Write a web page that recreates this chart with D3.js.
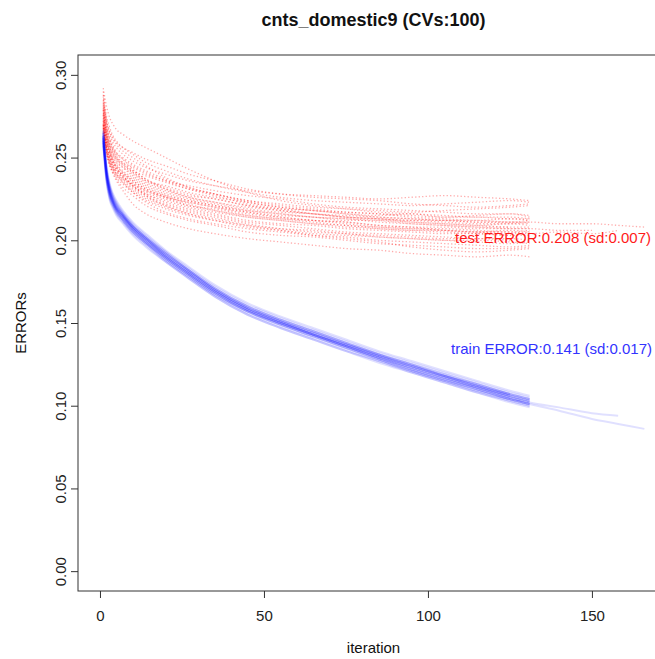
<!DOCTYPE html>
<html>
<head>
<meta charset="utf-8">
<script src="https://cdn.jsdelivr.net/npm/d3@7"></script>
<style>
    body { margin: 0; background: #fff; }
    svg text { font-family: "Liberation Sans", Arial, sans-serif; }
</style>
</head>
<body>
<svg id="chart" width="655" height="659"></svg>
<script>
const ITERS = [1, 2, 3, 4, 5, 7, 10, 14, 20, 27, 35, 45, 55, 65, 75, 85, 95, 105, 115, 125, 131, 140, 150, 158, 166];

// test error per CV run (red, dotted)
const TEST_RUNS = [
    [.290,.275,.268,.263,.260,.256,.252,.247,.242,.237,.233,.229,.226,.224,.223,.222,.221,.222,.223,.224,.223],
    [.282,.268,.259,.254,.250,.246,.241,.236,.231,.227,.225,.221,.219,.218,.216,.215,.216,.214,.215,.216,.214],
    [.270,.258,.251,.246,.243,.239,.233,.228,.224,.220,.217,.214,.212,.210,.209,.207,.206,.206,.205,.204,.205],
    [.278,.264,.256,.252,.249,.246,.242,.239,.235,.231,.228,.224,.221,.219,.217,.216,.214,.213,.212,.213,.212],
    [.268,.254,.247,.243,.240,.236,.231,.226,.221,.217,.214,.210,.207,.205,.204,.202,.201,.200,.199,.198,.199],
    [.285,.272,.265,.261,.258,.254,.250,.245,.238,.232,.228,.223,.220,.218,.216,.214,.213,.212,.211,.211,.210],
    [.274,.260,.253,.248,.244,.240,.235,.230,.226,.223,.220,.217,.215,.214,.212,.212,.211,.210,.209,.210,.209],
    [.272,.259,.252,.247,.245,.241,.237,.232,.227,.222,.218,.215,.213,.211,.209,.208,.207,.207,.206,.205,.206],
    [.280,.266,.258,.255,.252,.249,.245,.241,.236,.233,.230,.227,.225,.222,.220,.219,.218,.217,.216,.216,.215],
    [.265,.253,.247,.243,.240,.237,.233,.228,.223,.219,.216,.212,.210,.209,.207,.206,.205,.204,.204,.203,.203],
    [.276,.263,.256,.251,.248,.244,.239,.234,.229,.225,.222,.218,.216,.214,.213,.212,.210,.209,.208,.208],
    [.288,.270,.262,.257,.253,.249,.243,.237,.231,.226,.223,.220,.218,.216,.215,.214,.213,.212,.212,.211,.211,.210,.210,.209,.208],
    [.271,.257,.250,.245,.242,.238,.234,.229,.225,.221,.219,.215,.213,.212,.211,.209,.208,.208,.207,.207,.207,.206,.206],
    [.279,.265,.258,.253,.250,.247,.244,.240,.236,.231,.227,.222,.219,.216,.214,.213,.212,.211,.210,.210,.211],
    [.269,.256,.249,.244,.241,.237,.232,.227,.222,.218,.215,.211,.209,.207,.205,.204,.203,.202,.201,.201,.200],
    [.283,.269,.261,.256,.253,.250,.246,.242,.237,.232,.228,.224,.222,.220,.219,.218,.217,.218,.219,.220,.221],
    [.273,.261,.254,.250,.247,.244,.240,.235,.230,.226,.223,.219,.217,.216,.214,.213,.212,.212,.211,.211,.212],
    [.267,.255,.248,.244,.242,.238,.234,.230,.226,.223,.220,.216,.214,.212,.210,.208,.207,.206,.205,.206,.205],
    [.281,.267,.260,.255,.251,.247,.242,.237,.232,.228,.225,.221,.218,.216,.214,.213,.211,.210,.209,.208,.208],
    [.277,.264,.257,.252,.249,.245,.241,.236,.233,.229,.226,.223,.220,.218,.217,.216,.215,.214,.214,.213,.213],
    [.292,.281,.274,.270,.267,.264,.260,.256,.250,.243,.236,.229,.224,.221,.219,.217,.216,.215,.214,.214,.213],
    [.270,.257,.250,.246,.243,.240,.236,.231,.227,.224,.221,.218,.216,.214,.213,.211,.210,.209,.208,.207,.207],
    [.275,.261,.253,.248,.245,.241,.236,.231,.226,.221,.218,.214,.212,.210,.208,.207,.206,.205,.204,.203],
    [.266,.252,.245,.241,.239,.235,.230,.225,.220,.216,.213,.209,.206,.203,.201,.199,.196,.194,.193,.194,.195],
    [.268,.253,.245,.240,.236,.230,.222,.216,.211,.207,.204,.201,.199,.197,.195,.194,.192,.191,.190,.191,.190],
    [.272,.257,.249,.244,.240,.235,.229,.223,.217,.213,.210,.207,.205,.203,.202,.200,.199,.198,.197,.196,.197],
    [.279,.263,.254,.248,.244,.239,.233,.227,.221,.216,.212,.208,.206,.204,.203,.202,.201,.200,.200,.199,.198],
    [.270,.255,.246,.241,.237,.232,.227,.221,.216,.212,.209,.205,.203,.202,.200,.198,.197,.196,.195,.195,.196],
    [.284,.271,.264,.259,.256,.252,.248,.244,.240,.236,.233,.230,.228,.227,.226,.225,.226,.227,.226,.225,.224],
    [.276,.262,.254,.249,.246,.242,.238,.233,.228,.224,.221,.217,.214,.212,.211,.209,.208,.206,.205,.205,.204,.205,.204,.206],
    [.287,.273,.266,.262,.259,.256,.253,.249,.245,.240,.236,.231,.228,.226,.225,.224,.222,.221,.220,.221,.222],
    [.269,.254,.246,.242,.238,.234,.229,.224,.219,.215,.212,.209,.207,.206,.204,.203,.202,.201,.201,.200]
];

// train error per CV run (blue, solid)
const TRAIN_RUNS = [
    [.262,.240,.229,.223,.219,.214,.207,.200,.190,.180,.169,.158,.150,.143,.136,.129,.122,.116,.111,.105,.102],
    [.265,.243,.232,.226,.222,.216,.209,.202,.193,.183,.172,.161,.153,.146,.139,.132,.126,.120,.114,.108,.105],
    [.259,.237,.226,.221,.217,.212,.205,.198,.188,.178,.167,.156,.148,.141,.134,.127,.121,.115,.109,.103,.100],
    [.263,.241,.230,.224,.220,.215,.208,.201,.191,.181,.170,.159,.151,.144,.137,.131,.125,.119,.113,.107,.104],
    [.260,.238,.227,.222,.218,.213,.206,.199,.189,.179,.168,.157,.149,.142,.135,.128,.121,.115,.110,.104,.101],
    [.266,.244,.233,.227,.223,.217,.210,.203,.193,.182,.171,.160,.152,.145,.138,.131,.124,.118,.112,.106,.103],
    [.261,.239,.228,.222,.218,.212,.205,.198,.189,.179,.168,.157,.150,.143,.137,.130,.124,.118,.113,.107,.104],
    [.258,.236,.225,.220,.216,.211,.204,.197,.187,.177,.166,.155,.147,.140,.133,.126,.120,.114,.108,.102,.099],
    [.264,.242,.231,.225,.221,.215,.208,.201,.191,.181,.170,.159,.151,.144,.137,.130,.123,.117,.111,.105,.102,.099,.0955,.094],
    [.262,.240,.229,.223,.219,.214,.207,.199,.189,.179,.168,.157,.149,.142,.135,.128,.121,.115,.109,.104,.101,.097,.092,.089,.086],
    [.263,.241,.230,.224,.220,.215,.208,.201,.192,.182,.171,.160,.152,.145,.138,.131,.125,.119,.113,.107],
    [.260,.238,.228,.222,.218,.213,.206,.199,.190,.180,.169,.158,.150,.143,.136,.129,.123,.117,.111,.106,.103],
    [.267,.245,.234,.228,.224,.218,.211,.204,.194,.184,.173,.162,.154,.147,.140,.133,.127,.121,.115,.109,.106],
    [.257,.235,.224,.219,.215,.210,.203,.196,.187,.177,.166,.155,.147,.140,.133,.127,.120,.114,.108,.103,.100],
    [.262,.240,.229,.223,.219,.214,.207,.200,.191,.181,.170,.159,.151,.144,.137,.130,.124,.118,.112,.106],
    [.264,.242,.231,.225,.221,.216,.209,.202,.192,.182,.170,.159,.151,.143,.136,.129,.122,.116,.110,.104,.101],
    [.261,.239,.228,.223,.219,.214,.207,.200,.190,.180,.169,.158,.150,.143,.136,.130,.124,.118,.112,.107,.104],
    [.259,.237,.226,.221,.217,.212,.205,.198,.188,.178,.167,.157,.149,.142,.135,.128,.122,.116,.110,.104,.101],
    [.265,.243,.232,.226,.222,.216,.209,.202,.192,.182,.171,.160,.152,.145,.138,.131,.125,.118,.112,.106,.103],
    [.263,.241,.230,.224,.220,.215,.208,.201,.190,.180,.169,.158,.150,.143,.136,.129,.123,.117,.111,.105,.102]
];

const X_TICKS = [0, 50, 100, 150];
const Y_TICKS = [0, 0.05, 0.10, 0.15, 0.20, 0.25, 0.30];
const TITLE = "cnts_domestic9 (CVs:100)";
const TEST_LABEL = "test ERROR:0.208 (sd:0.007)";
const TRAIN_LABEL = "train ERROR:0.141 (sd:0.017)";

let svg = d3.select("#chart");

let box = {left: 78, right: 669, top: 55, bottom: 591};

// R-style scales, range padded by 4%
let xScale = d3.scaleLinear().domain([-6.7, 173.5]).range([box.left, box.right]);
let yScale = d3.scaleLinear().domain([-0.012, 0.312]).range([box.bottom, box.top]);

let line = d3.line()
    .x(function(d, i) { return xScale(ITERS[i]); })
    .y(function(d) { return yScale(d); })
    .curve(d3.curveMonotoneX);

// test runs
svg.append("g")
    .attr("class", "test-runs")
    .selectAll("path")
    .data(TEST_RUNS)
    .enter().append("path")
    .attr("d", line)
    .attr("fill", "none")
    .attr("stroke", "#ff0000")
    .attr("stroke-opacity", 0.33)
    .attr("stroke-width", 1.3)
    .attr("stroke-dasharray", "1.3,2.2");

// train runs
svg.append("g")
    .attr("class", "train-runs")
    .selectAll("path")
    .data(TRAIN_RUNS)
    .enter().append("path")
    .attr("d", line)
    .attr("fill", "none")
    .attr("stroke", "#0000ff")
    .attr("stroke-opacity", 0.12)
    .attr("stroke-width", 2);

// box
svg.append("rect")
    .attr("x", box.left)
    .attr("y", box.top)
    .attr("width", box.right - box.left)
    .attr("height", box.bottom - box.top)
    .attr("fill", "none")
    .attr("stroke", "#333");

// axes
let xAxis = d3.axisBottom(xScale).tickValues(X_TICKS).tickSize(7).tickSizeOuter(0).tickPadding(12.5);
let gx = svg.append("g")
    .attr("class", "x-axis")
    .attr("transform", "translate(0," + box.bottom + ")")
    .call(xAxis);
gx.select(".domain").remove();

let yAxis = d3.axisLeft(yScale).tickValues(Y_TICKS).tickFormat(d3.format(".2f")).tickSize(7).tickSizeOuter(0);
let gy = svg.append("g")
    .attr("class", "y-axis")
    .attr("transform", "translate(" + box.left + ",0)")
    .call(yAxis);
gy.select(".domain").remove();
gy.selectAll("text")
    .attr("x", 0)
    .attr("dy", 0)
    .attr("text-anchor", "middle")
    .attr("transform", "translate(-12.5,0) rotate(-90)");

svg.selectAll(".x-axis text, .y-axis text")
    .attr("font-size", 15)
    .attr("font-family", "Liberation Sans, Arial, sans-serif")
    .attr("fill", "#222");
svg.selectAll(".x-axis line, .y-axis line").attr("stroke", "#333");

// titles
svg.append("text")
    .text(TITLE)
    .attr("x", (box.left + box.right) / 2)
    .attr("y", 25.5)
    .attr("text-anchor", "middle")
    .attr("font-size", 18)
    .attr("font-weight", "bold")
    .attr("fill", "#111");

svg.append("text")
    .text("iteration")
    .attr("x", (box.left + box.right) / 2)
    .attr("y", 653)
    .attr("text-anchor", "middle")
    .attr("font-size", 15)
    .attr("fill", "#111");

svg.append("text")
    .text("ERRORs")
    .attr("transform", "translate(25.5," + ((box.top + box.bottom) / 2) + ") rotate(-90)")
    .attr("text-anchor", "middle")
    .attr("font-size", 15)
    .attr("fill", "#111");

// run summaries
svg.append("text")
    .text(TEST_LABEL)
    .attr("x", 651)
    .attr("y", 242.5)
    .attr("text-anchor", "end")
    .attr("font-size", 15)
    .attr("fill", "#ff1a1a");

svg.append("text")
    .text(TRAIN_LABEL)
    .attr("x", 652)
    .attr("y", 353.5)
    .attr("text-anchor", "end")
    .attr("font-size", 15)
    .attr("fill", "#3333ff");
</script>
</body>
</html>
